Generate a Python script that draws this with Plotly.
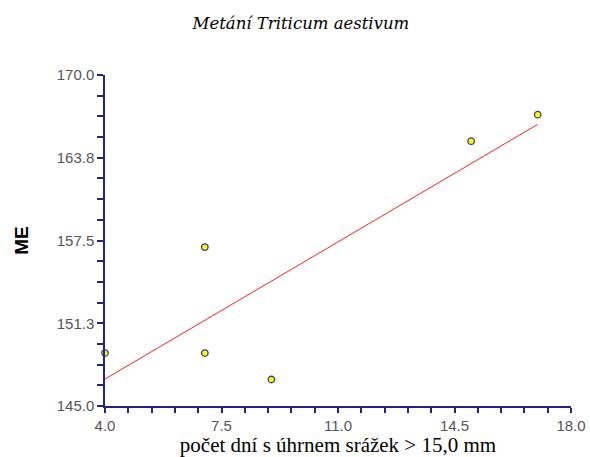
import numpy as np
import plotly.graph_objects as go

days = [4.0, 7.0, 7.0, 9.0, 15.0, 17.0]
me = [149.0, 157.0, 149.0, 147.0, 165.0, 167.0]

x_tickvals = [4.0, 7.5, 11.0, 14.5, 18.0]
x_ticktext = ["4.0", "7.5", "11.0", "14.5", "18.0"]
y_tickvals = [145.0, 151.25, 157.5, 163.75, 170.0]
y_ticktext = ["145.0", "151.3", "157.5", "163.8", "170.0"]

slope, intercept = np.polyfit(days, me, 1)
fit_x = [min(days), max(days)]
fit_y = [slope * v + intercept for v in fit_x]

axis_col = "#22228c"

fig = go.Figure()
fig.add_trace(go.Scatter(x=fit_x, y=fit_y, mode="lines",
                         line=dict(color="#ff2020", width=1), hoverinfo="skip",
                         cliponaxis=False))
fig.add_trace(go.Scatter(x=days, y=me, mode="markers",
                         marker=dict(color="#ffff00", size=6.5,
                                     line=dict(color="#3a3a8a", width=1.3)),
                         cliponaxis=False))

fig.update_layout(
    width=590, height=457,
    margin=dict(l=105, r=19, t=75, b=51, autoexpand=False),
    plot_bgcolor="white", paper_bgcolor="white",
    showlegend=False,
    title=dict(text="<i>Metání Triticum aestivum</i>", x=0.51, xanchor="center",
               y=1 - 23 / 457, yanchor="middle",
               font=dict(family="DejaVu Serif", size=16.5, color="#000000")),
)
fig.update_xaxes(
    range=[4.0, 18.0], tickmode="array", tickvals=x_tickvals, ticktext=x_ticktext,
    automargin=False,
    showgrid=False, zeroline=False, showline=True, linecolor=axis_col, linewidth=1.5,
    ticks="outside", ticklen=5, tickcolor=axis_col, tickwidth=1.5,
    tickfont=dict(family="Liberation Sans", size=15, color="#555555"),
    minor=dict(dtick=0.7, tick0=4.0, ticks="outside", ticklen=5, tickcolor=axis_col, tickwidth=1.5, showgrid=False),
    title=dict(text="počet dní s úhrnem srážek > 15,0 mm", standoff=2,
               font=dict(family="Liberation Serif", size=21, color="#000000")),
)
fig.update_yaxes(
    range=[145.0, 170.0], tickmode="array", tickvals=y_tickvals, ticktext=y_ticktext,
    automargin=False,
    showgrid=False, zeroline=False, showline=True, linecolor=axis_col, linewidth=1.5,
    ticks="outside", ticklen=6, tickcolor=axis_col, tickwidth=1.5,
    tickfont=dict(family="Liberation Sans", size=15, color="#555555"),
    minor=dict(dtick=1.5625, tick0=145.0, ticks="outside", ticklen=6, tickcolor=axis_col, tickwidth=1.5, showgrid=False),
    title=dict(text="<b>ME</b>", standoff=23,
               font=dict(family="Liberation Sans", size=19, color="#000000")),
)

fig.write_html("out.html")
